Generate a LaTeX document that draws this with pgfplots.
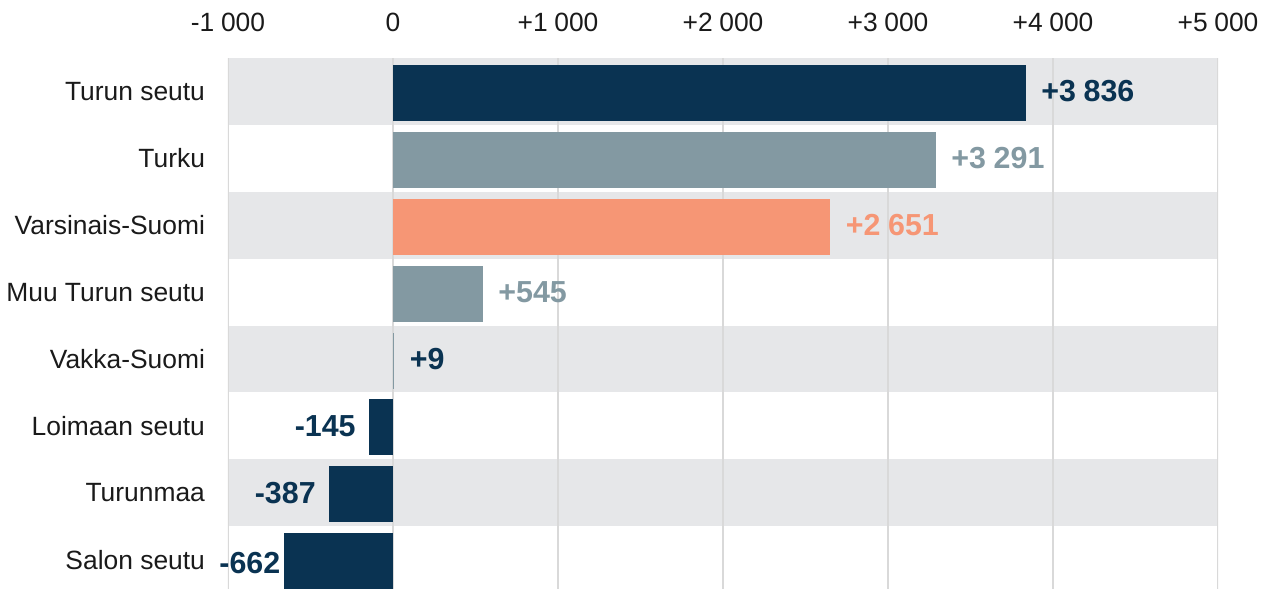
\documentclass[border=0pt]{standalone}
\usepackage{pgfplots}
\pgfplotsset{compat=1.18}
\usepackage{fontspec}
\setmainfont{Liberation Sans}
\definecolor{navy}{HTML}{0A3352}
\definecolor{grayb}{HTML}{8399A2}
\definecolor{salmon}{HTML}{F69675}
\definecolor{band}{HTML}{E6E7E9}
\definecolor{gridc}{HTML}{D9D9D9}
\definecolor{tickc}{HTML}{1A1A1A}
\newcommand{\ts}{\hspace{0.25em}}
\pgfplotsset{
  mybar/.style={xbar, bar width=28pt, bar shift=-0.8pt, fill=#1, draw=none,
    nodes near coords, point meta=explicit symbolic,
    every node near coord/.append style={text=#1, font=\fontsize{15.2}{17}\selectfont\bfseries}},
}
\begin{document}
\begin{tikzpicture}
\begin{axis}[
  at={(0,0)}, anchor=south west,
  scale only axis, width=495pt, height=265.5pt,
  xmin=-1000, xmax=5000, ymin=-0.5, ymax=7.44, y dir=reverse,
  axis line style={draw=none},
  major tick length=0pt,
  xticklabel pos=upper,
  xtick={-1000,0,1000,2000,3000,4000,5000},
  xticklabels={-1\ts 000,0,+1\ts 000,+2\ts 000,+3\ts 000,+4\ts 000,+5\ts 000},
  ytick={0,1,2,3,4,5,6,7},
  yticklabels={Turun seutu,Turku,Varsinais-Suomi,Muu Turun seutu,Vakka-Suomi,Loimaan seutu,Turunmaa,Salon seutu},
  tick label style={font=\fontsize{13.2}{15}\selectfont, text=tickc},
  xticklabel style={yshift=9.5pt},
  yticklabel style={xshift=-8pt},
  clip=true,
]
\fill[band] (axis cs:-1000,-0.5) rectangle (axis cs:5000,0.5);
\fill[band] (axis cs:-1000,1.5) rectangle (axis cs:5000,2.5);
\fill[band] (axis cs:-1000,3.5) rectangle (axis cs:5000,4.5);
\fill[band] (axis cs:-1000,5.5) rectangle (axis cs:5000,6.5);
\draw[gridc, line width=0.75pt] (axis cs:-1000,-0.5) -- (axis cs:-1000,7.44);
\draw[gridc, line width=0.75pt] (axis cs:0,-0.5) -- (axis cs:0,7.44);
\draw[gridc, line width=0.75pt] (axis cs:1000,-0.5) -- (axis cs:1000,7.44);
\draw[gridc, line width=0.75pt] (axis cs:2000,-0.5) -- (axis cs:2000,7.44);
\draw[gridc, line width=0.75pt] (axis cs:3000,-0.5) -- (axis cs:3000,7.44);
\draw[gridc, line width=0.75pt] (axis cs:4000,-0.5) -- (axis cs:4000,7.44);
\draw[gridc, line width=0.75pt] (axis cs:5000,-0.5) -- (axis cs:5000,7.44);
\addplot[mybar=navy, every node near coord/.append style={anchor=west, xshift=4.2pt}]
  coordinates {(3836,0) [{+3\ts 836}]};
\addplot[mybar=grayb, every node near coord/.append style={anchor=west, xshift=4.2pt}]
  coordinates {(3291,1) [{+3\ts 291}]};
\addplot[mybar=salmon, every node near coord/.append style={anchor=west, xshift=4.2pt}]
  coordinates {(2651,2) [{+2\ts 651}]};
\addplot[mybar=grayb, every node near coord/.append style={anchor=west, xshift=4.2pt}]
  coordinates {(545,3) [{+545}]};
\addplot[xbar, bar width=28pt, bar shift=-0.8pt, fill=grayb, draw=none,
  nodes near coords, point meta=explicit symbolic,
  every node near coord/.append style={text=navy, font=\fontsize{15.2}{17}\selectfont\bfseries, anchor=west, xshift=4.2pt}]
  coordinates {(9,4) [{+9}]};
\addplot[mybar=navy, every node near coord/.append style={anchor=east, xshift=-3.2pt}]
  coordinates {(-145,5) [{-145}]};
\addplot[mybar=navy, every node near coord/.append style={anchor=east, xshift=-3.2pt}]
  coordinates {(-387,6) [{-387}]};
\addplot[mybar=navy, every node near coord/.append style={anchor=east, xshift=1.8pt, yshift=-1.5pt}]
  coordinates {(-662,7) [{-662}]};
\end{axis}
\pgfresetboundingbox
\path[use as bounding box] (-114pt,0) rectangle (520.5pt,294.5pt);
\end{tikzpicture}
\end{document}
